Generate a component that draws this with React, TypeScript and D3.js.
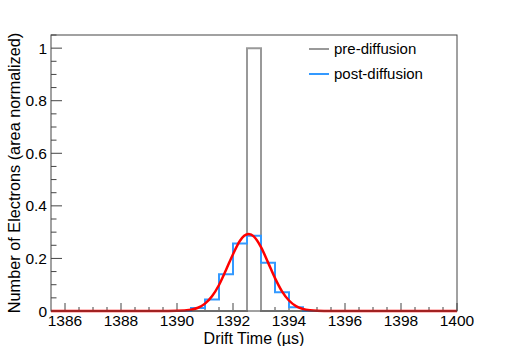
import React from "react";
import * as d3 from "d3";

// ---- data ----
const xDomain = [1385.5, 1400];
const binWidth = 0.5;
const binLow = d3.range(1385.5, 1400, binWidth); // 29 bins
const preValues = [0,0,0,0,0,0,0,0,0,0, 0,0,0,0,1,0,0,0,0,0, 0,0,0,0,0,0,0,0,0];
const postValues = [0,0,0,0,0,0,0,0,0,0, 0.011,0.044,0.14,0.257,0.286,0.184,0.071,0.014,0,0, 0,0,0,0,0,0,0,0,0];
const fitX = [1385.5, 1389, 1389.5, 1390, 1390.5, 1390.75, 1391, 1391.25, 1391.5, 1391.75, 1392, 1392.25, 1392.4, 1392.56, 1392.75, 1393, 1393.25, 1393.5, 1393.75, 1394, 1394.25, 1394.5, 1394.75, 1395, 1395.5, 1396, 1400];
const fitY = [0, 0, 0, 0.0005, 0.0049, 0.0124, 0.028, 0.056, 0.099, 0.156, 0.216, 0.267, 0.286, 0.293, 0.283, 0.243, 0.185, 0.125, 0.0748, 0.04, 0.0186, 0.0078, 0.0029, 0.0009, 0, 0, 0];
const xTicks = [1386, 1388, 1390, 1392, 1394, 1396, 1398, 1400];
const yTicks = [0, 0.2, 0.4, 0.6, 0.8, 1];
const legendLabels = ["pre-diffusion", "post-diffusion"];

const W = 508, H = 346;
const M = { left: 51, right: 457, top: 35, bottom: 311 };
const FONT = "'Liberation Sans', Arial, Helvetica, sans-serif";
const AXIS = "#444";

export default function App() {
  const x = d3.scaleLinear().domain(xDomain).range([M.left, M.right]);
  const y = d3.scaleLinear().domain([0, 1.05]).range([M.bottom, M.top]);

  const histPath = (vals: number[]) => {
    const pts: [number, number][] = binLow.map((b, i) => [b, vals[i]]);
    pts.push([xDomain[1], vals[vals.length - 1]]);
    return d3.line<[number, number]>()
      .x((d) => x(d[0]))
      .y((d) => y(d[1]))
      .curve(d3.curveStepAfter)(pts) as string;
  };
  const fitPath = d3.line<number>()
    .x((d, i) => x(fitX[i]))
    .y((d) => y(d))
    .curve(d3.curveMonotoneX)(fitY) as string;

  const xMinor = d3.range(1386, 1400.001, 0.5).filter((v) => !xTicks.includes(v));
  const yMinor = d3.range(0, 1.0501, 0.05).filter((v) => !yTicks.some((t) => Math.abs(t - v) < 1e-6));

  const legendColors = ["#999999", "#3399ff"];
  const legendY = [49, 74];

  return (
    <svg width={W} height={H} style={{ position: "absolute", left: 0, top: 0, background: "#fff" }} fontFamily={FONT}>
      <rect x={0} y={0} width={W} height={H} fill="#fff" />
      <clipPath id="plot">
        <rect x={M.left} y={M.top - 5} width={M.right - M.left} height={M.bottom - M.top + 10} />
      </clipPath>
      {/* x ticks */}
      {xTicks.map((t) => (
        <line key={"xt" + t} x1={x(t)} x2={x(t)} y1={M.bottom} y2={M.bottom - 8} stroke={AXIS} strokeWidth={1} />
      ))}
      {xMinor.map((t) => (
        <line key={"xm" + t} x1={x(t)} x2={x(t)} y1={M.bottom} y2={M.bottom - 4} stroke={AXIS} strokeWidth={1} />
      ))}
      {yTicks.map((t) => (
        <line key={"yt" + t} x1={M.left} x2={M.left + 11} y1={y(t)} y2={y(t)} stroke={AXIS} strokeWidth={1} />
      ))}
      {yMinor.map((t) => (
        <line key={"ym" + t} x1={M.left} x2={M.left + 5.5} y1={y(t)} y2={y(t)} stroke={AXIS} strokeWidth={1} />
      ))}
      <g clipPath="url(#plot)">
        <path d={histPath(preValues)} fill="none" stroke="#999999" strokeWidth={2} />
        <path d={histPath(postValues)} fill="none" stroke="#3399ff" strokeWidth={2} />
        <path d={fitPath} fill="none" stroke="#ff0000" strokeWidth={2.5} />
      </g>
      {/* frame */}
      <rect x={M.left} y={M.top} width={M.right - M.left} height={M.bottom - M.top} fill="none" stroke={AXIS} strokeWidth={1} />
      {/* tick labels */}
      {xTicks.map((t) => (
        <text key={"xl" + t} x={x(t)} y={326} textAnchor="middle" fontSize={15.5} fill="#000">{t}</text>
      ))}
      {yTicks.map((t) => (
        <text key={"yl" + t} x={47} y={y(t) + 5.5} textAnchor="end" fontSize={15.5} fill="#000">{t}</text>
      ))}
      <text x={(M.left + M.right) / 2} y={344} textAnchor="middle" fontSize={16} fill="#000">Drift Time (µs)</text>
      <text transform={`translate(20, ${(M.top + M.bottom) / 2}) rotate(-90)`} textAnchor="middle" fontSize={16.3} fill="#000">
        Number of Electrons (area normalized)
      </text>
      {/* legend */}
      {legendLabels.map((l, i) => (
        <g key={l}>
          <line x1={309} x2={329} y1={legendY[i]} y2={legendY[i]} stroke={legendColors[i]} strokeWidth={2} />
          <text x={334} y={legendY[i] + 5} fontSize={15} fill="#000">{l}</text>
        </g>
      ))}
    </svg>
  );
}
